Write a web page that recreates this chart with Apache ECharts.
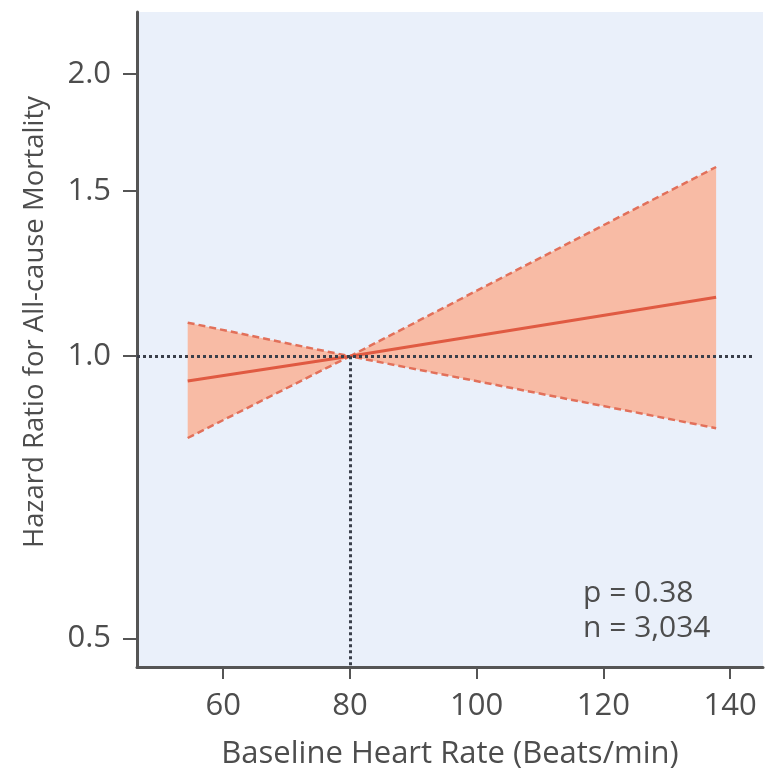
<!DOCTYPE html>
<html>
<head>
<meta charset="utf-8">
<script src="https://cdn.jsdelivr.net/npm/echarts@6/dist/echarts.min.js"></script>
<style>
  html, body { margin: 0; padding: 0; background: #fff; }
  #main { width: 769px; height: 771px; }
</style>
</head>
<body>
<div id="main"></div>
<script>
// heart rate points where the estimate was drawn
var heartRate = [54.4, 80, 137.8];
var hrEstimate = [0.941, 1.0, 1.156];
var hrUpper = [1.086, 1.0, 1.592];
var hrLower = [0.818, 1.0, 0.838];
var yTicks = [0.5, 1.0, 1.5, 2.0];
var xTicks = [60, 80, 100, 120, 140];
var refHR = 80;
var notes = ['p = 0.38', 'n = 3,034'];

var FONT = '"Open Sans", sans-serif';
var TXT = '#4d4d4d';
var Y_MIN = 0.466, Y_MAX = 2.33;

function pairs(ys) {
    return heartRate.map(function (x, i) { return [x, ys[i]]; });
}

var myChart = echarts.init(document.getElementById('main'));

var option = {
    animation: false,
    grid: {
        left: 137, right: 6, top: 12, bottom: 104,
        outerBoundsMode: 'none',
        containLabel: false,
        show: true,
        backgroundColor: '#eaf0fa',
        borderWidth: 0
    },
    xAxis: {
        type: 'value',
        min: 46.4,
        max: 145.2,
        name: 'Baseline Heart Rate (Beats/min)',
        nameLocation: 'middle',
        nameGap: 72,
        nameTextStyle: { fontFamily: FONT, fontSize: 31, color: TXT },
        axisLine: { lineStyle: { color: '#555', width: 3 } },
        axisTick: { customValues: xTicks, length: 12, lineStyle: { color: '#555', width: 2 } },
        axisLabel: { customValues: xTicks, fontFamily: FONT, fontSize: 31, color: TXT, margin: 24 },
        splitLine: { show: false }
    },
    yAxis: {
        type: 'log',
        logBase: 2,
        min: Y_MIN,
        max: Y_MAX,
        axisLine: { show: true, lineStyle: { color: '#555', width: 3 } },
        axisTick: { customValues: yTicks, length: 14, lineStyle: { color: '#555', width: 2 } },
        axisLabel: {
            customValues: yTicks,
            fontFamily: FONT, fontSize: 31, color: TXT, margin: 26,
            formatter: function (v) { return v.toFixed(1); }
        },
        splitLine: { show: false }
    },
    series: [
        {
            type: 'custom',
            z: 1,
            data: pairs(hrUpper),
            renderItem: function (params, api) {
                if (params.dataIndex !== 0) return null;
                var pts = [];
                for (var i = 0; i < heartRate.length; i++) {
                    pts.push(api.coord([heartRate[i], hrUpper[i]]));
                }
                for (var j = heartRate.length - 1; j >= 0; j--) {
                    pts.push(api.coord([heartRate[j], hrLower[j]]));
                }
                return {
                    type: 'polygon',
                    shape: { points: pts },
                    style: { fill: '#f8bba5' }
                };
            }
        },
        {
            type: 'line',
            z: 3,
            data: pairs(hrUpper),
            symbol: 'none',
            lineStyle: { color: '#e2705a', width: 2.5, type: [7, 4] }
        },
        {
            type: 'line',
            z: 3,
            data: pairs(hrLower),
            symbol: 'none',
            lineStyle: { color: '#e2705a', width: 2.5, type: [7, 4] }
        },
        {
            type: 'line',
            z: 4,
            data: pairs(hrEstimate),
            symbol: 'none',
            lineStyle: { color: '#e05a42', width: 3 },
            markLine: {
                silent: true,
                symbol: 'none',
                label: { show: false },
                lineStyle: { color: '#3a3f4a', width: 3, type: [3, 3] },
                data: [
                    [{ coord: [46.4, 1] }, { coord: [143.9, 1] }],
                    [{ coord: [refHR, 1] }, { coord: [refHR, Y_MIN] }]
                ]
            }
        }
    ],
    graphic: [
        {
            type: 'text',
            x: 35,
            y: 322,
            rotation: Math.PI / 2,
            style: {
                text: 'Hazard Ratio for All-cause Mortality',
                font: '27.5px ' + FONT,
                fill: TXT,
                align: 'center',
                verticalAlign: 'middle'
            }
        },
        {
            type: 'text',
            left: 583,
            top: 576,
            style: {
                text: notes.join('\n'),
                font: '30px ' + FONT,
                fill: TXT,
                lineHeight: 35
            }
        }
    ]
};

myChart.setOption(option);
window.addEventListener('resize', function () {
    myChart.resize();
});
</script>
</body>
</html>
